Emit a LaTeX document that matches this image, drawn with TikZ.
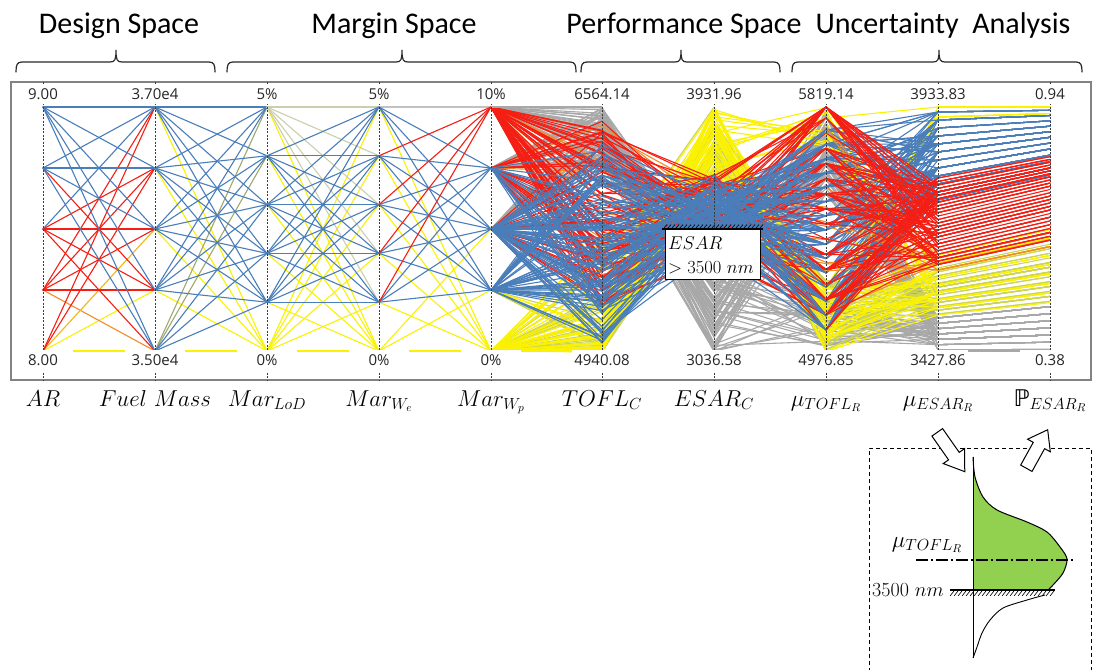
\RequirePackage{fix-cm}
\documentclass[tikz,border=0pt]{standalone}
\usepackage{fontspec}
\newfontfamily\titlefont{Carlito}
\newfontfamily\tickfont{Open Sans}
\newfontfamily\dstruck{DejaVu Sans}

\definecolor{pcblue}{RGB}{74,126,187}
\definecolor{pcred}{RGB}{245,30,20}
\definecolor{pcorange}{RGB}{242,140,40}
\definecolor{pcyellow}{RGB}{250,242,0}
\definecolor{pcyelgreen}{RGB}{205,212,80}
\definecolor{pcolive}{RGB}{160,168,110}
\definecolor{pcgray}{RGB}{168,168,168}
\definecolor{pdfgreen}{RGB}{146,208,80}
\definecolor{axisdark}{RGB}{60,60,60}
\definecolor{framegray}{RGB}{130,130,130}
\definecolor{bracegray}{RGB}{40,40,40}

\tikzset{
  pc/.style={line width=1.1pt, line join=round, line cap=round},
  pcaxis/.style={axisdark, line width=0.7pt, dash pattern=on 2pt off 1.5pt},
  ticklabel/.style={fill=white, inner sep=0pt, minimum width=60pt, minimum height=19pt,
    font=\tickfont\fontsize{15}{18}\selectfont, text=black!85},
  bottomlabel/.style={ticklabel, minimum height=21pt},
  axislabel/.style={anchor=base, font=\fontsize{23}{27}\selectfont},
  grouptitle/.style={anchor=base, font=\titlefont\fontsize{30}{36}\selectfont},
  bracestroke/.style={bracegray, line width=1.2pt, line cap=round},
  hollowarrow/.style={draw=black, fill=white, line width=1pt, line join=miter},
  reqtext/.style={anchor=base west, inner sep=0pt, font=\fontsize{18.5}{22}\selectfont},
}

% curly group bracket: left x, centre x, right x
\newcommand\groupbrace[3]{%
  \draw[bracestroke] (#1,72) .. controls (#1,65) and (#1+1,62) .. (#1+6,62)
    -- (#2-6,62) .. controls (#2-1,62) and (#2,60) .. (#2,50)
    .. controls (#2,60) and (#2+1,62) .. (#2+6,62)
    -- (#3-6,62) .. controls (#3-1,62) and (#3,65) .. (#3,72);
}

% a design is: style, Mar_Wp level, TOFL, ESAR, mu TOFL, mu ESAR (P follows from mu ESAR)
% front part: Mar_Wp -> TOFL -> ESAR -> mu TOFL
\newcommand\pcfront[6]{%
  \draw[pc,#1] (p#2) -- (602,#3) -- (714,#4) -- (826,#5);%
}
% back part: mu TOFL -> mu ESAR -> P
\newcommand\pcback[6]{%
  \pgfmathsetmacro\pcPy{#6-27*sin((#6-107)/245*180)}%
  \draw[pc,#1] (826,#5) -- (938,#6) -- (1050,\pcPy);%
}

% design families, each with its own seed so both passes draw the same designs
\newcommand\grayset{%
  \pgfmathsetseed{11}%
  \foreach \k in {1,...,85}{%
    \pgfmathtruncatemacro\lv{rnd<0.4 ? 0 : (rnd<0.5 ? 1 : 2)}%
    \pgfmathsetmacro\yt{107+60*rnd}%
    \pgfmathsetmacro\ye{264+88*rnd}%
    \pgfmathsetmacro\ym{rnd<0.6 ? 110+90*rnd : 300+52*rnd}%
    \pgfmathsetmacro\yu{318+32*round(6*rnd)/6}%
    \pcdraw{pcgray}{\lv}{\yt}{\ye}{\ym}{\yu}%
  }%
}
\newcommand\yelgreenset{%
  \pgfmathsetseed{23}%
  \foreach \k in {1,...,40}{%
    \pgfmathtruncatemacro\lv{rnd<0.8 ? 4 : 3}%
    \pgfmathsetmacro\yt{352-120*rnd*rnd}%
    \pgfmathsetmacro\ye{107+80*rnd}%
    \pgfmathsetmacro\ym{280+72*rnd}%
    \pgfmathsetmacro\yu{268+46*round(12*rnd)/12}%
    \pcdraw{pcyelgreen}{\lv}{\yt}{\ye}{\ym}{\yu}%
  }%
}
\newcommand\yellowset{%
  \pgfmathsetseed{37}%
  \foreach \k in {1,...,50}{%
    \pgfmathtruncatemacro\lv{rnd<0.85 ? 4 : 3}%
    \pgfmathsetmacro\yt{352-130*rnd*rnd}%
    \pgfmathsetmacro\ye{107+75*rnd}%
    \pgfmathsetmacro\ym{rnd<0.8 ? 282+70*rnd : 107+40*rnd}%
    \pgfmathsetmacro\yu{rnd<0.2 ? 107+10*round(2*rnd)/2 : 255+60*round(8*rnd)/8}%
    \pcdraw{pcyellow}{\lv}{\yt}{\ye}{\ym}{\yu}%
  }%
}
\newcommand\orangeset{%
  \pgfmathsetseed{41}%
  \foreach \k in {1,...,12}{%
    \pgfmathtruncatemacro\lv{rnd<0.6 ? 0 : 1}%
    \pgfmathsetmacro\yt{125+180*rnd}%
    \pgfmathsetmacro\ye{175+85*rnd}%
    \pgfmathsetmacro\ym{120+200*rnd}%
    \pgfmathsetmacro\yu{252+18*round(3*rnd)/3}%
    \pcdraw{pcorange}{\lv}{\yt}{\ye}{\ym}{\yu}%
  }%
}
\newcommand\redset{%
  \pgfmathsetseed{53}%
  \foreach \k in {1,...,95}{%
    \pgfmathsetmacro\sel{rnd}%
    \pgfmathtruncatemacro\lv{\sel<0.55 ? 0 : (\sel<0.85 ? 1 : 2)}%
    \pgfmathsetmacro\yt{118+192*rnd}%
    \pgfmathsetmacro\ye{174+88*rnd}%
    \pgfmathsetmacro\ym{rnd<0.2 ? 107 : 118+212*round(14*rnd)/14}%
    \pgfmathsetmacro\yu{178+90*round(26*rnd)/26}%
    \pcdraw{pcred}{\lv}{\yt}{\ye}{\ym}{\yu}%
  }%
}
\newcommand\blueset{%
  \pgfmathsetseed{67}%
  \foreach \k in {1,...,120}{%
    \pgfmathsetmacro\sel{rnd}%
    \pgfmathtruncatemacro\lv{\sel<0.5 ? 2 : (\sel<0.85 ? 3 : 1)}%
    \pgfmathsetmacro\yt{140+205*rnd}%
    \pgfmathsetmacro\ye{172+90*(rnd+rnd)/2}%
    \pgfmathsetmacro\ym{130+200*round(14*rnd)/14}%
    \pgfmathsetmacro\yu{112+88*round(11*rnd)/11}%
    \pcdraw{pcblue}{\lv}{\yt}{\ye}{\ym}{\yu}%
  }%
}

\begin{document}
\begin{tikzpicture}[x=1pt,y=-1pt]
\useasboundingbox (0,0) rectangle (1094,669);
\fill[white] (0,0) rectangle (1094,669);

% ---------- group titles and brackets ----------
\node[grouptitle] (tdesign) at (119,34) {Design Space};
\node[grouptitle] (tmargin) at (394,34) {Margin Space};
\node[grouptitle] (tperf) at (684,34) {Performance Space};
\node[grouptitle] (tunc) at (943,34) {Uncertainty\ \ Analysis};
\groupbrace{16}{116}{215}
\groupbrace{227}{402}{576}
\groupbrace{581}{681}{780}
\groupbrace{792}{939}{1082}

% ---------- axis levels ----------
\foreach \i/\y in {0/107,1/168,2/229,3/290,4/351}{
  \coordinate (a\i) at (43,\y);
  \coordinate (f\i) at (155,\y);
  \coordinate (p\i) at (491,\y);
}
\foreach \i/\y in {0/107,1/155.8,2/204.6,3/253.4,4/302.2,5/351}{
  \coordinate (l\i) at (267,\y);
  \coordinate (w\i) at (379,\y);
}

% ---------- AR -> Fuel Mass ----------
\foreach \i/\j/\c in {4/3/pcyellow,4/4/pcyellow,3/4/pcorange,4/2/pcorange!60!pcyellow,
  1/3/pcred,2/1/pcred,2/2/pcred,2/3/pcred,2/4/pcred,3/0/pcred,3/1/pcred,3/2/pcred,3/3/pcred,
  4/0/pcred,4/1/pcred,
  0/0/pcblue,0/1/pcblue,0/2/pcblue,0/3/pcblue,0/4/pcblue,1/0/pcblue,1/1/pcblue,1/2/pcblue,1/4/pcblue,2/0/pcblue}
  \draw[pc,\c] (a\i) -- (f\j);

% ---------- Fuel Mass -> Mar_LoD ----------
\foreach \i in {0,...,4} \draw[pc,pcyellow] (f\i) -- (l5);
\foreach \j in {0,1} \draw[pc,pcolive] (f4) -- (l\j);
\foreach \i in {0,...,3}{\foreach \j in {0,...,4} \draw[pc,pcblue] (f\i) -- (l\j);}
\foreach \j in {2,3,4} \draw[pc,pcblue] (f4) -- (l\j);

% ---------- Mar_LoD -> Mar_We ----------
\foreach \i in {0,...,5} \draw[pc,pcyellow] (l\i) -- (w5);
\foreach \j in {0,...,4} \draw[pc,pcyellow] (l5) -- (w\j);
\foreach \j in {0,...,4} \draw[pc,pcolive!55!white] (l0) -- (w\j);
\foreach \i in {1,...,4}{\foreach \j in {0,...,4} \draw[pc,pcblue] (l\i) -- (w\j);}

% ---------- Mar_We -> Mar_Wp ----------
\foreach \i in {0,...,5} \draw[pc,pcyellow] (w\i) -- (p4);
\foreach \j in {2,3} \draw[pc,pcyellow] (w5) -- (p\j);
\draw[pc,pcgray!70] (w0) -- (p0);
\foreach \i in {0,...,4}{\foreach \j in {1,2,3} \draw[pc,pcblue] (w\i) -- (p\j);}
\foreach \i in {1,...,4} \draw[pc,pcred] (w\i) -- (p0);

% ---------- performance space: blue on top ----------
\let\pcdraw\pcfront
\grayset \yelgreenset \yellowset \orangeset \redset \blueset
\draw[pc,pcgray] (p0) -- (602,107);

% ---------- uncertainty space: red on top ----------
\let\pcdraw\pcback
\grayset \yelgreenset \yellowset \blueset \orangeset \redset
\draw[pc,pcgray] (938,351) -- (1050,351);
\draw[pc,pcyellow] (938,107) -- (1050,107);

% ---------- frame and axes ----------
\draw[framegray, line width=1.2pt] (11,82) rectangle (1091,380);
\foreach \n/\x in {ar/43,fm/155,ld/267,we/379,wp/491,to/602,es/714,mt/826,me/938,pe/1050}
  \draw[pcaxis] (\x,82) -- (\x,380);

% ---------- axis range labels ----------
\foreach \n/\x/\t in {ar/43/9.00,fm/155/3.70e4,ld/267/5\%,we/379/5\%,wp/491/10\%,
  to/602/6564.14,es/714/3931.96,mt/826/5819.14,me/938/3933.83,pe/1050/0.94}
  \node[ticklabel] (max\n) at (\x,94.5) {\t};
\foreach \n/\x/\t in {ar/43/8.00,fm/155/3.50e4,ld/267/0\%,we/379/0\%,wp/491/0\%,
  to/602/4940.08,es/714/3036.58,mt/826/4976.85,me/938/3427.86,pe/1050/0.38}
  \node[bottomlabel] (min\n) at (\x,360.5) {\t};

% ---------- axis names ----------
\node[axislabel] (nar) at (43,406) {$AR$};
\node[axislabel] (nfm) at (155,406) {$Fuel\ Mass$};
\node[axislabel] (nld) at (267,406) {$Mar_{LoD}$};
\node[axislabel] (nwe) at (379,406) {$Mar_{W_e}$};
\node[axislabel] (nwp) at (491,406) {$Mar_{W_p}$};
\node[axislabel] (nto) at (602,406) {$TOFL_C$};
\node[axislabel] (nes) at (714,406) {$ESAR_C$};
\node[axislabel] (nmt) at (826,406) {$\mu_{TOFL_R}$};
\node[axislabel] (nme) at (938,406) {$\mu_{ESAR_R}$};
\node[axislabel] (npe) at (1050,406) {{\dstruck ℙ}$_{ESAR_R}$};

% ---------- ESAR requirement box ----------
\draw[black, line width=1pt, fill=white] (665,229) rectangle (760,279);
\draw[black, line width=1.6pt] (662,229) -- (763,229);
\foreach \x in {664,668,...,760} \draw[black, line width=0.6pt] (\x,228) -- (\x+3,224.5);
\node[reqtext] (req1) at (668,249) {$ESAR$};
\node[reqtext] (req2) at (668,273) {$>3500\ nm$};

% ---------- probability inset ----------
\draw[black, line width=0.9pt, dash pattern=on 4pt off 3pt] (869,672) -- (869,448) -- (1091,448) -- (1091,672);
\fill[pdfgreen] plot[smooth] coordinates {(973,457) (975,477) (983,497) (997,510) (1027,522) (1047,532)
  (1060,547) (1067,559) (1063,573) (1053,585) (1048,590)} -- (973,590) -- cycle;
\draw[black, line width=1pt] plot[smooth] coordinates {(973,457) (975,477) (983,497) (997,510) (1027,522) (1047,532)
  (1060,547) (1067,559) (1063,573) (1053,585) (1048,590)};
\draw[black, line width=0.9pt] plot[smooth] coordinates {(1045,595) (1027,600) (1003,608) (990,620) (982,633) (977,647) (973,658)};
\draw[black, line width=1pt] (973,457) -- (973,658);
\draw[black, line width=1.3pt, dash pattern=on 12pt off 3pt on 2pt off 3pt] (916,560) -- (1075,560);
\draw[black, line width=1.6pt] (950,590) -- (1055,590);
\foreach \x in {954,958,...,1054} \draw[black, line width=0.6pt] (\x,591) -- (\x-4,596);
\node[font=\fontsize{23}{27}\selectfont, inner sep=0pt] (muinset) at (927,545) {$\mu_{TOFL_R}$};
\node[font=\fontsize{20}{24}\selectfont, inner sep=0pt] (limit) at (908,590) {3500 $nm$};

% hollow arrows into and out of the inset
\begin{scope}[shift={(951,452)}, rotate=-55]
  \draw[hollowarrow] (-24,-6.5) -- (5,-6.5) -- (5,-13) -- (24,0) -- (5,13) -- (5,6.5) -- (-24,6.5) -- cycle;
\end{scope}
\begin{scope}[shift={(1037,449)}, rotate=61]
  \draw[hollowarrow] (-22,-6.5) -- (4,-6.5) -- (4,-13) -- (22,0) -- (4,13) -- (4,6.5) -- (-22,6.5) -- cycle;
\end{scope}
\end{tikzpicture}
\end{document}
